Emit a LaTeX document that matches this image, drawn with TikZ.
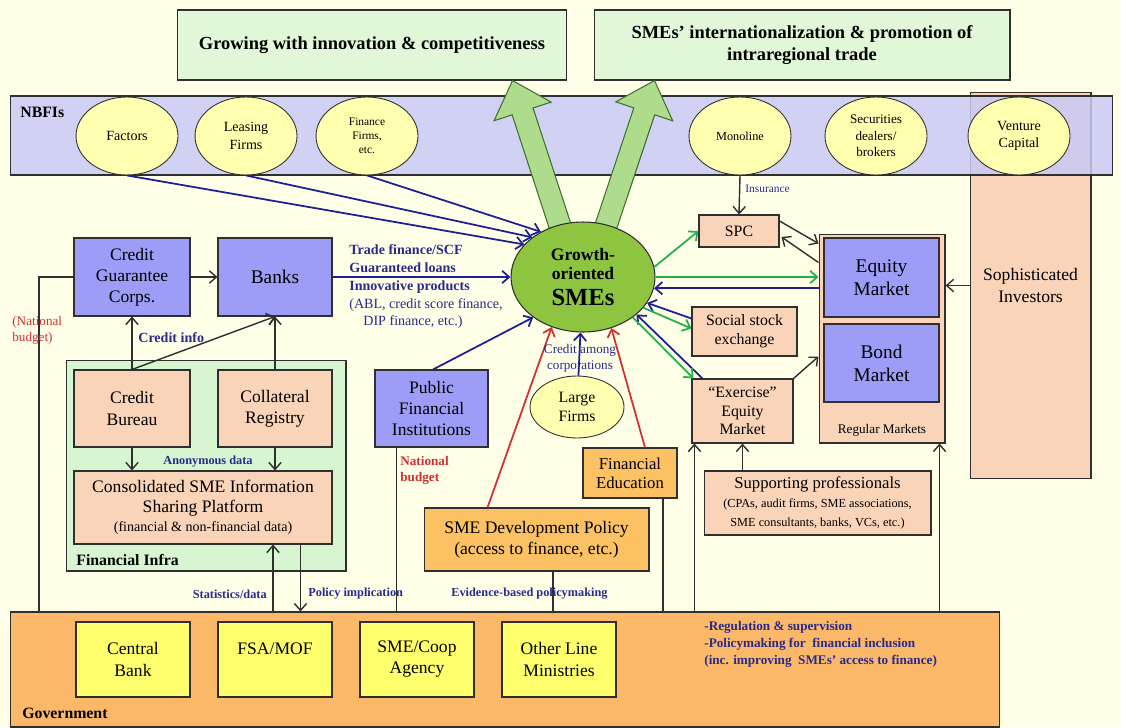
\documentclass[tikz,border=0pt]{standalone}
\usepackage{fontspec}
\setmainfont{Liberation Serif}
\usetikzlibrary{shapes.geometric, arrows.meta, positioning, calc, backgrounds}
\definecolor{cream}{HTML}{FFFFE8}
\definecolor{topgreen}{HTML}{E1F7D8}
\definecolor{nbfiblue}{HTML}{C9C9F5}
\definecolor{firmyellow}{HTML}{FFFFB0}
\definecolor{bankblue}{HTML}{9D9DF7}
\definecolor{salmon}{HTML}{F9D4B8}
\definecolor{infragreen}{HTML}{D6F5D0}
\definecolor{smegreen}{HTML}{8DC540}
\definecolor{policyorange}{HTML}{FBC163}
\definecolor{govorange}{HTML}{FBB869}
\definecolor{govyellow}{HTML}{FFFF6E}
\definecolor{arrowgreen}{HTML}{AEDC8C}
\definecolor{arrowedge}{HTML}{3F6F30}
\definecolor{textblue}{HTML}{2A2A8C}
\definecolor{lineblue}{HTML}{1E1E96}
\definecolor{budgetred}{HTML}{D03030}
\definecolor{flowgreen}{HTML}{22B04A}
\definecolor{edge}{HTML}{2F2F2F}
\newcommand{\fsz}[2]{\fontsize{#1}{#2}\selectfont}

\begin{document}
\begin{tikzpicture}[
    x=0.02cm, y=-0.02cm,
    box/.style={rectangle, draw=edge, line width=0.6pt, align=center, inner sep=2pt, font=\fsz{10}{12}},
    firm/.style={ellipse, draw=edge, fill=firmyellow, line width=0.5pt, align=center, minimum width=2.04cm, minimum height=1.56cm, inner sep=0pt, font=\fsz{8}{10}},
    arrow/.style={draw=edge, line width=0.8pt, -{Straight Barb[length=4pt, width=7pt]}},
    bluearrow/.style={arrow, draw=lineblue, line width=1pt},
    redarrow/.style={arrow, draw=budgetred, line width=1pt},
    greenarrow/.style={arrow, draw=flowgreen, line width=1pt},
    link/.style={draw=edge, line width=0.6pt},
    note/.style={text=textblue, font=\bfseries\fsz{7.5}{9}, inner sep=0pt},
    budget/.style={text=budgetred, font=\fsz{7.5}{9}, align=left, inner sep=0pt}
]

% Canvas
\fill[cream] (0,0) rectangle (1121,727);
\useasboundingbox (0,0) rectangle (1121,727);

% Goals
\node[box, fill=topgreen, minimum width=7.8cm, minimum height=1.4cm, font=\bfseries\fsz{10.5}{13}] (grow) at (372,45) {Growing with innovation \& competitiveness};
\node[box, fill=topgreen, minimum width=8.32cm, minimum height=1.4cm, font=\bfseries\fsz{10.5}{13}] (intl) at (802,45) {SMEs' internationalization \& promotion of\\intraregional trade};

% Investors
\node[box, fill=salmon, minimum width=2.42cm, minimum height=7.74cm] (soph) at (1030.5,285.5) {Sophisticated\\Investors};

% NBFIs
\node[rectangle, draw=edge, line width=0.6pt, fill=nbfiblue, fill opacity=0.85, minimum width=22.06cm, minimum height=1.58cm] (nbfi) at (561.5,135.5) {};
\node[anchor=west, font=\bfseries\fsz{9}{11}, inner sep=0pt] (nbfilabel) at (20,112) {NBFIs};
\node[firm] (factors) at (127,136) {Factors};
\node[firm] (leasing) at (246,136) {Leasing\\Firms};
\node[firm, font=\fsz{6.5}{8}] (finance) at (367,136) {Finance\\Firms,\\etc.};
\node[firm, font=\fsz{7}{9}] (monoline) at (740,136) {Monoline};
\node[firm, font=\fsz{7.5}{9.5}] (securities) at (876,136) {Securities\\dealers/\\brokers};
\node[firm] (venture) at (1019,136) {Venture\\Capital};

% Growth arrows
\coordinate (g1base) at (562,232);
\coordinate (g1tip) at ($(grow.south east)+(-55,0)$);
\coordinate (g1h) at ($(g1tip)!0.65cm!(g1base)$);
\coordinate (g2base) at (604,232);
\coordinate (g2tip) at ($(intl.south west)+(61,0)$);
\coordinate (g2h) at ($(g2tip)!0.65cm!(g2base)$);
\filldraw[draw=arrowedge, fill=arrowgreen, line width=0.6pt]
    ($(g1base)!0.22cm!90:(g1tip)$) -- ($(g1h)!0.22cm!90:(g1tip)$) -- ($(g1h)!0.6cm!90:(g1tip)$) -- (g1tip)
    -- ($(g1h)!0.6cm!-90:(g1tip)$) -- ($(g1h)!0.22cm!-90:(g1tip)$) -- ($(g1base)!0.22cm!-90:(g1tip)$) -- cycle;
\filldraw[draw=arrowedge, fill=arrowgreen, line width=0.6pt]
    ($(g2base)!0.22cm!90:(g2tip)$) -- ($(g2h)!0.22cm!90:(g2tip)$) -- ($(g2h)!0.6cm!90:(g2tip)$) -- (g2tip)
    -- ($(g2h)!0.6cm!-90:(g2tip)$) -- ($(g2h)!0.22cm!-90:(g2tip)$) -- ($(g2base)!0.22cm!-90:(g2tip)$) -- cycle;

% Banking side
\node[box, fill=bankblue, minimum width=2.32cm, minimum height=1.56cm] (cgc) at (132,277) {Credit\\Guarantee\\Corps.};
\node[box, fill=bankblue, minimum width=2.28cm, minimum height=1.56cm, font=\fsz{11}{13}] (banks) at (275,277) {Banks};

% Financial infrastructure
\node[rectangle, draw=edge, line width=0.6pt, fill=infragreen, minimum width=5.6cm, minimum height=4.22cm] (infra) at (206,465.5) {};
\node[anchor=west, font=\bfseries\fsz{9}{11}, inner sep=0pt] (infralabel) at (76,560) {Financial Infra};
\node[box, fill=salmon, minimum width=2.32cm, minimum height=1.54cm] (cb) at (132,408.5) {Credit\\Bureau};
\node[box, fill=salmon, minimum width=2.28cm, minimum height=1.54cm] (coll) at (275,408.5) {Collateral\\Registry};
\node[box, fill=salmon, minimum width=5.16cm, minimum height=1.46cm, font=\fsz{10}{11}] (cons) at (203,507.5) {Consolidated SME Information\\Sharing Platform\\{\fsz{8}{10}(financial \& non-financial data)}};

% Public side
\node[box, fill=bankblue, minimum width=2.26cm, minimum height=1.54cm] (pfi) at (431.5,408.5) {Public\\Financial\\Institutions};
\node[firm, minimum width=1.88cm, minimum height=1.24cm, font=\fsz{9}{11}] (large) at (577,407) {Large\\Firms};
\node[box, fill=policyorange, minimum width=1.88cm, minimum height=1.0cm, font=\fsz{9.5}{11}] (finedu) at (630,473) {Financial\\Education};
\node[box, fill=policyorange, minimum width=4.5cm, minimum height=1.26cm] (smedev) at (536.5,539.5) {SME Development Policy\\(access to finance, etc.)};

% Markets
\node[box, fill=salmon, minimum width=1.6cm, minimum height=0.64cm, font=\fsz{9}{11}] (spc) at (739,231) {SPC};
\node[box, fill=salmon, minimum width=2.1cm, minimum height=0.98cm, font=\fsz{9}{11}] (social) at (744.5,331.5) {Social stock\\exchange};
\node[box, fill=salmon, minimum width=2.02cm, minimum height=1.28cm, font=\fsz{9}{10.5}] (exer) at (742.5,411) {``Exercise''\\Equity\\Market};
\node[box, fill=salmon, minimum width=2.52cm, minimum height=4.18cm] (reg) at (882,338.5) {};
\node[font=\fsz{7.5}{9}, inner sep=0pt] (reglabel) at (882,430) {Regular Markets};
\node[box, fill=bankblue, minimum width=2.3cm, minimum height=1.58cm, font=\fsz{11}{13}] (equity) at (881.5,277.5) {Equity\\Market};
\node[box, fill=bankblue, minimum width=2.3cm, minimum height=1.56cm, font=\fsz{11}{13}] (bond) at (881.5,363) {Bond\\Market};
\node[box, fill=salmon, minimum width=4.54cm, minimum height=1.28cm, font=\fsz{9.5}{11}] (supp) at (817.5,503) {Supporting professionals\\{\fsz{7}{8.5}(CPAs, audit firms, SME associations,}\\{\fsz{7}{8.5}SME consultants, banks, VCs, etc.)}};

% Government
\node[rectangle, draw=edge, line width=0.6pt, fill=govorange, minimum width=19.8cm, minimum height=2.3cm] (gov) at (505,669.5) {};
\node[anchor=west, font=\bfseries\fsz{9}{11}, inner sep=0pt] (govlabel) at (22,713) {Government};
\node[box, fill=govyellow, minimum width=2.28cm, minimum height=1.5cm] (cbank) at (133,659.5) {Central\\Bank};
\node[box, fill=govyellow, minimum width=2.28cm, minimum height=1.5cm] (fsa) at (275,659.5) {FSA/MOF\\\mbox{}};
\node[box, fill=govyellow, minimum width=2.28cm, minimum height=1.5cm] (coop) at (417,659.5) {SME/Coop\\Agency};
\node[box, fill=govyellow, minimum width=2.28cm, minimum height=1.5cm] (other) at (559,659.5) {Other Line\\Ministries};
\node[anchor=north west, note, align=left, font=\bfseries\fsz{7.5}{9.6}] (govtasks) at (704,621) {-Regulation \& supervision\\-Policymaking for\ \ financial inclusion\\(inc. improving\ \ SMEs' access to finance)};

% SMEs
\node[ellipse, draw=edge, line width=0.6pt, fill=smegreen, minimum width=2.88cm, minimum height=2.2cm, align=center, inner sep=0pt, font=\bfseries\fsz{10}{11}] (smes) at (583,277) {Growth-\\oriented\\[4pt]{\fsz{14}{16}SMEs}};

% Flows into SMEs
\draw[bluearrow] (factors.south) -- (smes.151);
\draw[bluearrow] (leasing.south) -- (smes.142);
\draw[bluearrow] (finance.south) -- (smes.133);
\draw[bluearrow] (banks.east) -- (smes.west);
\draw[bluearrow] ($(pfi.north)+(1.5,0)$) -- (smes.219);
\draw[bluearrow] (large) -- (smes);
\draw[redarrow] ($(smedev.north west)+(64,0)$) -- (smes.238);
\draw[redarrow] ($(finedu.north)+(15,0)$) -- (smes.299);

% SMEs and markets
\draw[greenarrow] (smes.8) -- (spc.west);
\draw[greenarrow] (smes.east) -- (smes.east -| reg.west);
\draw[bluearrow] (smes.351 -| reg.west) -- (smes.351);
\draw[bluearrow] ($(social.west)+(0,-13)$) -- (smes.338);
\draw[greenarrow] (smes.333) -- ($(social.west)+(0,-3)$);
\draw[bluearrow] ($(exer.north west)+(11,0)$) -- (smes.325);
\draw[greenarrow] (smes.321) -- ($(exer.north west)+(2,0)$);

% Market links
\draw[arrow] (monoline.south) -- (spc.north);
\draw[arrow] ($(spc.east)+(0,-10)$) -- ($(reg.north west)+(0,10)$);
\draw[arrow] ($(reg.north west)+(0,29)$) -- ($(spc.east)+(2,6)$);
\draw[arrow] (soph.west) -- (soph.west -| reg.east);
\draw[arrow] (exer.north east) -- ($(reg.west)+(0,18)$);
\draw[arrow] (exer.south |- supp.north) -- (exer.south);

% Banking links
\draw[arrow] (cgc) -- (banks);
\draw[arrow] (cb.north) -- (cgc.south);
\draw[arrow] (cb.north) -- (banks.south);
\draw[arrow] (coll.north) -- (banks.south);
\draw[arrow] (cb.south) -- (cb.south |- cons.north);
\draw[arrow] (coll.south) -- (coll.south |- cons.north);

% Government links
\coordinate (budgetline) at (39,277);
\coordinate (statline) at ($(cons.south)+(70,0)$);
\coordinate (polline) at ($(cons.south east)+(-32,0)$);
\coordinate (pfiline) at ($(pfi.south west)+(22,0)$);
\coordinate (devline) at ($(smedev.south)+(16.5,0)$);
\coordinate (eduline) at ($(finedu.south)+(33,0)$);
\coordinate (exerline) at ($(exer.south west)+(3,0)$);
\coordinate (regline) at ($(reg.south east)+(-6,0)$);
\draw[link] (cgc.west) -- (budgetline) -- (budgetline |- gov.north);
\draw[arrow] (statline |- gov.north) -- (statline);
\draw[arrow] (polline) -- (polline |- gov.north);
\draw[link] (pfiline) -- (pfiline |- gov.north);
\draw[link] (devline) -- (devline |- gov.north);
\draw[link] (eduline) -- (eduline |- gov.north);
\draw[arrow] (exerline |- gov.north) -- (exerline);
\draw[arrow] (regline |- gov.north) -- (regline);

% Labels
\node[anchor=north west, align=left, text=textblue, font=\bfseries\fsz{8}{10.2}, inner sep=0pt] (tradetext) at (349,244) {Trade finance/SCF\\Guaranteed loans\\Innovative products\\{\mdseries (ABL, credit score finance,}\\{\mdseries\quad DIP finance, etc.)}};
\node[text=textblue, font=\fsz{7.5}{9}, align=center, inner sep=0pt] (creditamong) at (580,358) {Credit among\\corporations};
\node[anchor=west, text=textblue, font=\fsz{6.5}{8}, inner sep=0pt] (insurance) at (745,189) {Insurance};
\node[anchor=west, note, font=\bfseries\fsz{8}{10}] (creditinfo) at (138,338) {Credit info};
\node[note, font=\bfseries\fsz{7}{9}] (anondata) at (208,462) {Anonymous data};
\node[anchor=west, budget] (natbudget1) at (12,330) {(National\\budget)};
\node[anchor=north west, budget, font=\bfseries\fsz{7.5}{9}] (natbudget2) at (400,456) {National\\budget};
\node[anchor=east, note, font=\bfseries\fsz{7}{9}] (statdata) at (267,594) {Statistics/data};
\node[anchor=west, note, font=\bfseries\fsz{7}{9}] (policyimp) at (308,594) {Policy implication};
\node[anchor=west, note, font=\bfseries\fsz{7}{9}] (evidence) at (451,594) {Evidence-based policymaking};

\end{tikzpicture}
\end{document}
